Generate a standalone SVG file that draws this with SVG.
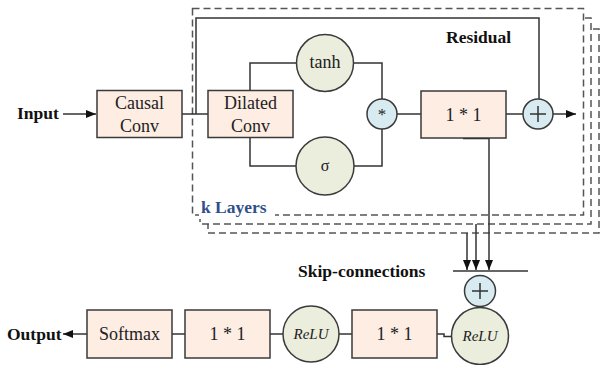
<svg xmlns="http://www.w3.org/2000/svg" width="600" height="365" viewBox="0 0 600 365">
<defs>
<style>
.box{fill:#fdede2;stroke:#3a3a3a;stroke-width:1.5}
.gc{fill:#ebeddd;stroke:#3a3a3a;stroke-width:1.5}
.bc{fill:#d7ebf1;stroke:#3a3a3a;stroke-width:1.5}
.frame{fill:#fff;stroke:#555;stroke-width:1.5;stroke-dasharray:7,4}
.ln{fill:none;stroke:#333;stroke-width:1.5}
.t{font-family:"Liberation Serif","Times New Roman",serif;font-size:18px;fill:#222;text-anchor:middle;dominant-baseline:central}
.b{font-family:"Liberation Serif","Times New Roman",serif;font-size:17.5px;font-weight:bold;fill:#111}
.i{font-family:"Liberation Serif","Times New Roman",serif;font-size:15px;font-style:italic;fill:#222;text-anchor:middle;dominant-baseline:central}
</style>
<marker id="ah" viewBox="0 0 10 10" refX="10" refY="5" markerWidth="10" markerHeight="10" markerUnits="userSpaceOnUse" orient="auto">
<path d="M0,1 L10,5 L0,9 z" fill="#111"/>
</marker>
</defs>
<g id="frames">
<rect class="frame" x="208" y="29" width="391" height="204"/>
<rect class="frame" x="200" y="18" width="391" height="206"/>
<rect class="frame" x="192.5" y="8.5" width="391" height="206.5"/>
</g>
<g id="connectors">
<line class="ln" x1="63" y1="114" x2="96" y2="114" marker-end="url(#ah)"/>
<line class="ln" x1="182" y1="114" x2="208" y2="114"/>
<path class="ln" d="M196,114 V18 H539 V99"/>
<path class="ln" d="M250,90 V63 H297"/>
<path class="ln" d="M250,137.5 V166 H297"/>
<path class="ln" d="M353,63 H382 V99"/>
<path class="ln" d="M353,166 H382 V129"/>
<line class="ln" x1="397" y1="114" x2="421" y2="114"/>
<line class="ln" x1="506" y1="114" x2="523" y2="114"/>
<line class="ln" x1="553" y1="114" x2="576" y2="114" marker-end="url(#ah)"/>
<line x1="463" y1="138" x2="489" y2="138" stroke="#222" stroke-width="2.5"/>
<line class="ln" x1="489" y1="138" x2="489" y2="270" marker-end="url(#ah)"/>
<line class="ln" x1="476" y1="224" x2="476" y2="270" marker-end="url(#ah)"/>
<line class="ln" x1="467" y1="233" x2="467" y2="270" marker-end="url(#ah)"/>
<line class="ln" x1="453" y1="271" x2="528" y2="271"/>
<path class="ln" d="M437,334 H444 V336.5 H452"/>
<line class="ln" x1="339" y1="334" x2="352" y2="334"/>
<line class="ln" x1="270" y1="334" x2="283" y2="334"/>
<line class="ln" x1="172" y1="334" x2="185" y2="334"/>
<line class="ln" x1="87" y1="334" x2="63" y2="334" marker-end="url(#ah)"/>
</g>
<g id="causal-conv"><rect class="box" x="97" y="90.5" width="85" height="47"/><text class="t" x="139.5" y="103">Causal</text><text class="t" x="139.5" y="126">Conv</text></g>
<g id="dilated-conv"><rect class="box" x="208" y="90.5" width="85" height="47"/><text class="t" x="250.5" y="103">Dilated</text><text class="t" x="250.5" y="126">Conv</text></g>
<g id="tanh"><circle class="gc" cx="325" cy="63" r="28.5"/><text class="t" x="325" y="62">tanh</text></g>
<g id="sigma"><circle class="gc" cx="325" cy="166" r="29"/><text class="t" x="325" y="165" style="font-size:16px">σ</text></g>
<g id="mult"><circle class="bc" cx="382" cy="114" r="15"/><text class="t" x="382" y="114" style="font-size:17px">*</text></g>
<g id="conv1x1-res"><rect class="box" x="421" y="91" width="85" height="47"/><text class="t" x="463.5" y="114.5">1 * 1</text></g>
<g id="add-res"><circle class="bc" cx="538" cy="114" r="15"/><path class="ln" d="M530,114 H546 M538,106 V122"/></g>
<g id="skip-add"><circle class="bc" cx="480" cy="291" r="15.5"/><path class="ln" d="M472,291 H488 M480,283 V299"/></g>
<g id="relu2"><circle class="gc" cx="480" cy="336" r="28.5"/><text class="i" x="480" y="336">ReLU</text></g>
<g id="conv1x1-b"><rect class="box" x="352" y="310" width="85" height="48"/><text class="t" x="394.5" y="334">1 * 1</text></g>
<g id="relu1"><circle class="gc" cx="311" cy="334" r="28"/><text class="i" x="311" y="334">ReLU</text></g>
<g id="conv1x1-a"><rect class="box" x="185" y="310" width="85" height="48"/><text class="t" x="227.5" y="334">1 * 1</text></g>
<g id="softmax"><rect class="box" x="87" y="310" width="85" height="48"/><text class="t" x="129.5" y="334">Softmax</text></g>
<g id="labels">
<text class="b" x="17" y="119">Input</text>
<text class="b" x="7" y="340">Output</text>
<text class="b" x="446" y="43">Residual</text>
<text class="b" x="298" y="277">Skip-connections</text>
<rect x="199" y="199" width="76" height="20" fill="#fff"/>
<text class="b" x="201" y="213" style="fill:#2f5088">k Layers</text>
</g>
</svg>
